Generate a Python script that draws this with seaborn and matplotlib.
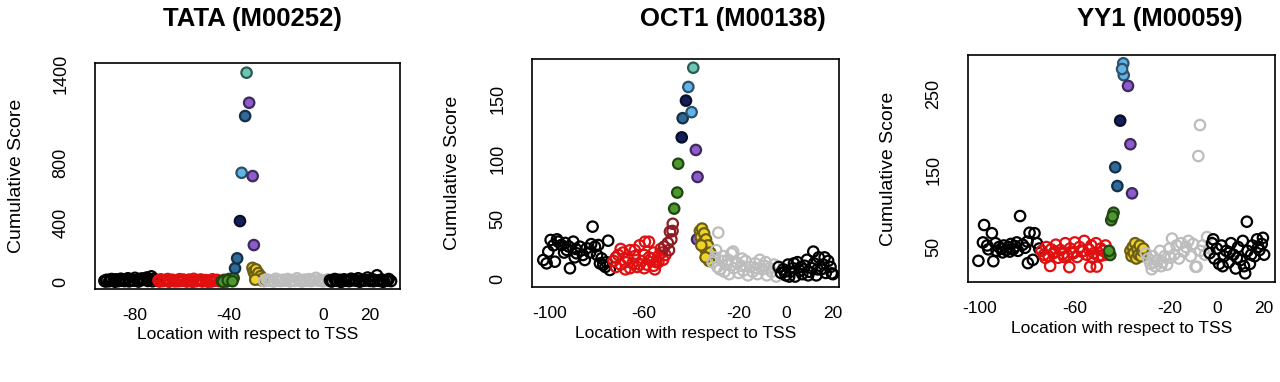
import numpy as np
import pandas as pd
import seaborn as sns
import matplotlib
matplotlib.use("Agg")
import matplotlib.pyplot as plt
from matplotlib.colors import to_rgba

# ---------------- data ----------------
# TATA (M00252)
tata_x = [-93, -92, -91, -90, -89, -88, -87, -86, -85, -84, -83, -82, -81, -80, -79, -78, -77, -76, -75, -74, -73, -72, -71,
          -92.5, -90.5, -88.5, -86.5, -84.5, -82.5, -80.5, -78.5, -76.5, -74.5, -72.5, -70.5,
          -70, -69, -68, -67, -66, -65, -64, -63, -62, -61, -60, -59, -58, -57, -56, -55, -54, -53, -52, -51, -50, -49, -48, -47, -46, -45, -44,
          -69.5, -67.5, -65.5, -63.5, -61.5, -59.5, -57.5, -55.5, -53.5, -51.5, -49.5, -47.5, -45.5,
          -43, -42, -41, -40, -39, -38, -42.5, -40.5, -38.5,
          -37.4, -36.5, -35.3, -34.6, -33.1, -32.5, -31.4, -29.9, -29.4,
          -30, -29.5, -29, -28.5, -28, -27.5, -27, -26.5, -26, -25.5, -28.8,
          -25, -24, -23, -22, -21, -20, -19, -18, -17, -16, -15, -14, -13, -12, -11, -10, -9, -8, -7, -6, -5, -4, -3, -2, -1, 0, 1, 2,
          3, 4, 5, 6, 7, 8, 9, 10, 11, 12, 13, 14, 15, 16, 17, 18, 19, 20, 21, 22, 23, 24, 25, 26, 27, 28, 29,
          3.5, 5.5, 7.5, 9.5, 11.5, 13.5, 15.5, 17.5, 19.5, 21.5, 23.5, 25.5, 27.5]
tata_y = [8, 15, 5, 20, 12, 18, 6, 22, 10, 16, 25, 9, 14, 28, 12, 20, 24, 15, 30, 18, 38, 22, 14,
          3, 10, 2, 12, 6, 4, 9, 3, 14, 7, 5, 11,
          10, 18, 6, 14, 20, 8, 15, 4, 12, 19, 7, 13, 3, 16, 9, 21, 5, 11, 17, 6, 13, 2, 10, 18, 8, 14, 5,
          3, 9, 2, 11, 5, 16, 7, 1, 12, 4, 9, 3, 11,
          6, 14, 3, 20, 9, 26, 2, 11, 5,
          92, 159, 409, 733, 1114, 1405, 1203, 711, 248,
          95, 70, 50, 85, 35, 60, 20, 40, 10, 25, 15,
          5, 18, 8, 12, 3, 22, 10, 6, 15, 9, 20, 4, 13, 7, 25, 11, 3, 16, 8, 19, 6, 12, 28, 9, 14, 4, 10, 17,
          12, 5, 20, 8, 15, 3, 18, 10, 6, 22, 14, 9, 25, 4, 16, 11, 30, 7, 19, 13, 45, 8, 17, 5, 12, 20, 6,
          4, 14, 2, 11, 7, 17, 3, 9, 13, 5, 10, 2, 8]
tata_grp = (["black"] * 35 + ["red"] * 40 + ["green"] * 9
            + ["steel", "steel", "navy", "light", "steel", "teal", "purple", "purple", "purple"]
            + ["yellow"] * 11 + ["grey"] * 28 + ["black"] * 40)

# OCT1 (M00138)
oct_x = [-102.8, -101.4, -100.7, -99.7, -97.9, -96.5, -95.1, -92.9, -91.5, -90.1, -88.7, -87.3, -85.2, -84.4, -81.9, -80.9,
         -79.5, -78.1, -77.4, -75.3, -74.6, -98.5, -97, -94, -93.5, -92, -89.5, -89, -86, -83, -82.5, -80, -78.8, -76.5, -76,
         -73, -72, -71, -70, -69, -68, -67, -66, -65, -64, -63, -62, -61, -60, -59, -58, -57, -56, -55, -54, -53, -52,
         -72, -70, -68, -66, -64, -62, -60, -59.7, -58, -56, -54, -51, -52.5, -55.5,
         -50, -49.1, -48.5, -48, -47.9, -49.5, -51.5,
         -47.3, -46, -45.6,
         -44.1, -43.7, -42.3, -41.3, -39.9, -39.2, -38.1, -37.4, -37.6,
         -36.4, -36, -35.5, -35, -34.6, -34.2, -33.8, -33.3, -33, -32.5, -32, -35.8, -34,
         -31, -30, -29, -28.6, -28, -27, -26, -25, -24, -23, -22.3, -22, -21, -20, -19, -18, -17, -16, -15, -14, -13, -12,
         -11, -10, -9, -8, -7, -6, -5, -4, -29.5, -26.5, -24.5, -20.5, -18.5, -12.5, -8.5,
         -3, -2, -1, 0, 1, 2, 3, 4, 5, 6, 7, 8, 9, 10, 11, 11.7, 12, 13, 14, 15, 16, 17, 18, 19, 19.5, 20,
         -0.5, 1.5, 3.5, 6.5, 9.5, 13.5, 16.5]
oct_y = [15.8, 13, 22.8, 32.5, 14.4, 31.1, 28.3, 24.2, 8.9, 31.1, 21.4, 26.9, 15.8, 25.6, 43.6, 26.9,
         28.3, 17.2, 11.7, 31.9, 7.5, 28, 33, 22, 30, 27, 18, 25, 20, 22, 29, 20, 13, 10, 14,
         15, 10, 20, 12, 22, 8, 17, 24, 13, 19, 10, 28, 15, 20, 12, 31, 17, 22, 14, 19, 25, 16,
         18, 25, 14, 9, 24, 12, 9, 31, 18, 11, 14, 20, 22, 8,
         30, 39.4, 33, 40, 46, 24, 27,
         58.6, 72, 96,
         118, 134, 148.6, 160, 139, 176, 107.5, 85, 33,
         40, 35, 42, 30, 38, 25, 33, 20, 28, 15, 22, 28, 18,
         14, 18, 10, 38.6, 8, 15, 6, 12, 4, 21.4, 22.8, 9, 14, 5, 11, 7, 15, 3, 10, 6, 13, 4,
         16, 8, 11, 3, 9, 6, 12, 2, 24, 19, 16, 13, 17, 9, 14,
         10, 5, 8, 3, 12, 6, 9, 2, 14, 7, 4, 11, 16, 6, 9, 22.8, 13, 3, 18, 8, 12, 5, 15, 10, 4.7, 4,
         6, 2, 13, 10, 3, 8, 18]
oct_grp = (["black"] * 35 + ["red"] * 36 + ["darkred"] * 7 + ["green"] * 3
           + ["navy", "steel", "navy", "light", "light", "teal", "purple", "purple", "purple"]
           + ["yellow"] * 13 + ["grey"] * 37 + ["black"] * 33)

# YY1 (M00059)
yy_x = [-100.7, -98.3, -98.8, -95, -94.4, -96.5, -83.1, -79.1, -77, -79.8, -77.7,
        -97, -93, -92, -91, -90, -89, -88, -87, -86, -85, -84, -82, -81, -80, -76, -75, -93.5, -90.5, -87.5, -84.5,
        -74, -73, -72, -71, -70, -69, -68, -67, -66, -65, -64, -63, -62, -61, -60, -59, -58, -57, -56, -55, -54, -53,
        -52, -51, -50, -49, -48, -47, -46, -72.5, -68.5, -64.5, -60.5, -56.5, -52.5, -48.5, -70.4, -62.3, -53.5, -50.7,
        -45, -44.6, -43.6, -45.5, -44,
        -42.9, -42, -40.8, -39.5, -39.3, -40, -37.5, -36.5, -35.8,
        -36.5, -36, -35.5, -35, -34.5, -34, -33.5, -33, -32.5, -32, -31.5, -31,
        -30, -29, -28, -27.5, -27, -26, -25, -24, -23, -22, -21, -20, -18.9, -18, -17, -16, -15, -14, -13, -12, -11,
        -10, -9, -8.5, -7.1, -7.8, -7, -6, -5, -4.1, -3, -26.5, -23.5, -19.5,
        -3, -2, -1, 0, 1, 2, 3, 4, 5, 6, 7, 8, 9, 10, 11, 12, 12.7, 13, 14, 15, 16, 17, 18, 19, 20,
        -1.5, 2.5, 5.5, 8.5, 11.5, 14.5, 17.5, 19.5]
yy_y = [32, 78.7, 56, 68, 31.5, 47, 90.4, 68.6, 68, 29, 33.3,
        52, 45, 50, 48, 52, 46, 50, 54, 47, 51, 45, 53, 49, 57, 55, 48, 55, 43, 44, 56,
        45, 40, 50, 38, 47, 42, 53, 36, 46, 41, 55, 39, 48, 43, 56, 37, 50, 44, 58, 40, 47, 52,
        42, 55, 38, 48, 45, 52, 40, 36, 44, 37, 42, 45, 36, 39, 25.3, 23.8, 24.5, 24.5,
        39.6, 85, 94.7, 45, 90,
        154, 129.5, 214.7, 289.5, 274, 282, 260, 184, 120,
        45, 38, 50, 42, 55, 35, 47, 40, 52, 38, 45, 48,
        42, 35, 28, 21, 38, 25, 33, 45, 30, 38, 27, 48, 61, 40, 52, 35, 55, 44, 50, 58, 38,
        54, 24.3, 24.3, 209, 168.6, 45, 52, 40, 63, 48, 30, 25, 36,
        42, 55, 35, 48, 28, 52, 38, 45, 30, 55, 40, 22, 50, 33, 58, 15.7, 83, 45, 28, 52, 38, 60, 46, 54, 40,
        60, 25, 43, 36, 25, 40, 50, 62]
yy_grp = (["black"] * 31 + ["red"] * 40 + ["green"] * 5
          + ["steel", "steel", "navy", "light", "light", "light", "purple", "purple", "purple"]
          + ["yellow"] * 12 + ["grey"] * 34 + ["black"] * 33)

titles = ["TATA (M00252)", "OCT1 (M00138)", "YY1 (M00059)"]

palette = {"black": "#000000", "red": "#e01010", "darkred": "#8e1c24", "green": "#4c9a2c",
           "navy": "#14205a", "steel": "#2e6a9c", "light": "#62b4e8", "teal": "#68c8b4",
           "purple": "#8c5ccc", "yellow": "#f0d22a", "grey": "#bdbdbd"}
filled = {"green", "navy", "steel", "light", "teal", "purple", "yellow"}

# ---------------- plotting ----------------
sns.set_style("white")
plt.rcParams["font.family"] = ["Liberation Sans", "DejaVu Sans"]
plt.rcParams["text.color"] = "black"
plt.rcParams["axes.labelcolor"] = "black"
plt.rcParams["xtick.color"] = "black"
plt.rcParams["ytick.color"] = "black"

fig = plt.figure(figsize=(12.8, 3.82), dpi=100)
boxes = [[95 / 1280, 93 / 382, 305 / 1280, 226 / 382],
         [532 / 1280, 95 / 382, 307 / 1280, 228 / 382],
         [968 / 1280, 100 / 382, 307 / 1280, 227 / 382]]
title_x = [252 / 1280, 733 / 1280, 1160 / 1280]
data = [(tata_x, tata_y, tata_grp), (oct_x, oct_y, oct_grp), (yy_x, yy_y, yy_grp)]
xlims = [(-97, 32.8), (-107.6, 22.6), (-105.1, 24.6)]
ylims = [(-47, 1470), (-6.7, 183.3), (4.4, 300.3)]
yticks = [(list(range(0, 1401, 200)), ["0", "", "400", "", "800", "", "", "1400"]),
          ([0, 50, 100, 150], ["0", "50", "100", "150"]),
          ([50, 100, 150, 200, 250], ["50", "", "150", "", "250"])]
xticks = [([-80, -60, -40, -20, 0, 20], ["-80", "", "-40", "", "0", "20"]),
          ([-100, -80, -60, -40, -20, 0, 20], ["-100", "", "-60", "", "-20", "0", "20"]),
          ([-100, -80, -60, -40, -20, 0, 20], ["-100", "", "-60", "", "-20", "0", "20"])]


def darker(c, f=0.45):
    r, g, b, a = to_rgba(c)
    return (r * f, g * f, b * f, 1)


for i, (xs, ys, gs) in enumerate(data):
    ax = fig.add_axes(boxes[i])
    df = pd.DataFrame({"loc": xs, "score": ys, "grp": gs})
    sns.scatterplot(data=df, x="loc", y="score", hue="grp", palette=palette, legend=False,
                    ax=ax, s=56, linewidth=1.6)
    coll = ax.collections[0]
    face, edge = [], []
    for g in df["grp"]:
        c = palette[g]
        if g in filled:
            face.append(to_rgba(c))
            edge.append(darker(c))
        else:
            face.append((0, 0, 0, 0))
            edge.append(to_rgba(c))
    coll.set_facecolors(face)
    coll.set_edgecolors(edge)

    ax.set_xlim(*xlims[i])
    ax.set_ylim(*ylims[i])
    ax.set_xticks(xticks[i][0])
    ax.set_xticklabels(xticks[i][1], fontsize=12.5)
    ax.set_yticks(yticks[i][0])
    ax.set_yticklabels(yticks[i][1], fontsize=13, rotation=90, va="center")
    ax.tick_params(direction="out", length=8.5, width=1, color="black", pad=5)
    ax.tick_params(axis="y", pad=10)
    for sp in ax.spines.values():
        sp.set_visible(True)
        sp.set_color("black")
        sp.set_linewidth(1.2)
    ax.set_xlabel("Location with respect to TSS", fontsize=12.5)
    ax.set_ylabel("Cumulative Score", fontsize=14)
    ax.xaxis.set_label_coords(0.5, -0.17)
    ax.yaxis.set_label_coords(-0.23, 0.5)
    fig.text(title_x[i], 1 - 19 / 382, titles[i], fontsize=18.5, fontweight="bold",
             ha="center", va="center")

fig.savefig("out.png", dpi=100)
